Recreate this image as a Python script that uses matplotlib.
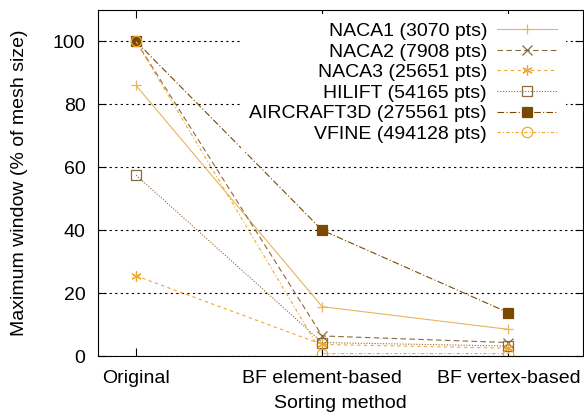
import matplotlib
matplotlib.use("Agg")
import matplotlib.pyplot as plt

plt.rcParams['font.family'] = ['Liberation Sans', 'DejaVu Sans']

methods = ['Original', 'BF element-based', 'BF vertex-based']
labels = ['NACA1 (3070 pts)', 'NACA2 (7908 pts)', 'NACA3 (25651 pts)',
          'HILIFT (54165 pts)', 'AIRCRAFT3D (275561 pts)', 'VFINE (494128 pts)']
naca1 = [86, 15.7, 8.5]
naca2 = [100, 6.4, 4.3]
naca3 = [25.5, 3.7, 2.5]
hilift = [57.5, 4.3, 3.2]
aircraft3d = [100, 40, 13.8]
vfine = [100, 0.8, 0.8]

series = [naca1, naca2, naca3, hilift, aircraft3d, vfine]
styles = [
    dict(color='#e8b45c', ls='-', marker='+', mfc='none'),
    dict(color='#8a6a3a', ls=(0, (5, 3)), marker='x', mfc='none'),
    dict(color='#f0a830', ls=(0, (3, 3)), marker=(6, 2, 0), mfc='none'),
    dict(color='#8a6a40', ls=(0, (1, 1.5)), marker='s', mfc='none'),
    dict(color='#7a4a00', ls=(0, (6, 2, 1, 2)), marker='s', mfc='#7a4a00'),
    dict(color='#f0a830', ls=(0, (3, 2, 1, 2)), marker='o', mfc='none'),
]

fig = plt.figure(figsize=(5.84, 4.16), dpi=100)
ax = fig.add_axes([0.168, 0.144, 0.830, 0.832])

x = list(range(len(methods)))
for vals, lab, st in zip(series, labels, styles):
    ax.plot(x, vals, label=lab, lw=0.8, ms=7.5, mew=0.9, **st)

ax.set_xlim(-0.204, 2.40)
ax.set_ylim(0, 110)
ax.set_xticks(x)
ax.set_xticklabels(methods)
ax.set_yticks([0, 20, 40, 60, 80, 100])
ax.tick_params(axis='y', direction='in', left=True, right=True, length=6,
               labelsize=14, pad=9)
ax.tick_params(axis='x', direction='in', bottom=True, top=True, length=6,
               labelsize=14, pad=10)
ax.yaxis.grid(True, ls=(0, (2, 3)), color='black', lw=0.8)
ax.set_axisbelow(True)
ax.set_xlabel('Sorting method', fontsize=14, labelpad=6)
ax.set_ylabel('Maximum window (% of mesh size)', fontsize=14, labelpad=18)

leg = ax.legend(loc='upper right', bbox_to_anchor=(0.973, 1.0), markerfirst=False,
                frameon=True, fontsize=14, handlelength=3.1, labelspacing=0.15,
                borderaxespad=0.2, handletextpad=0.5, borderpad=0.45)
leg.get_frame().set_edgecolor('none')
leg.get_frame().set_facecolor('white')
leg.get_frame().set_alpha(1)
for t in leg.get_texts():
    t.set_ha('right')
leg._legend_box.align = 'right'

fig.savefig('out.png', dpi=100)
